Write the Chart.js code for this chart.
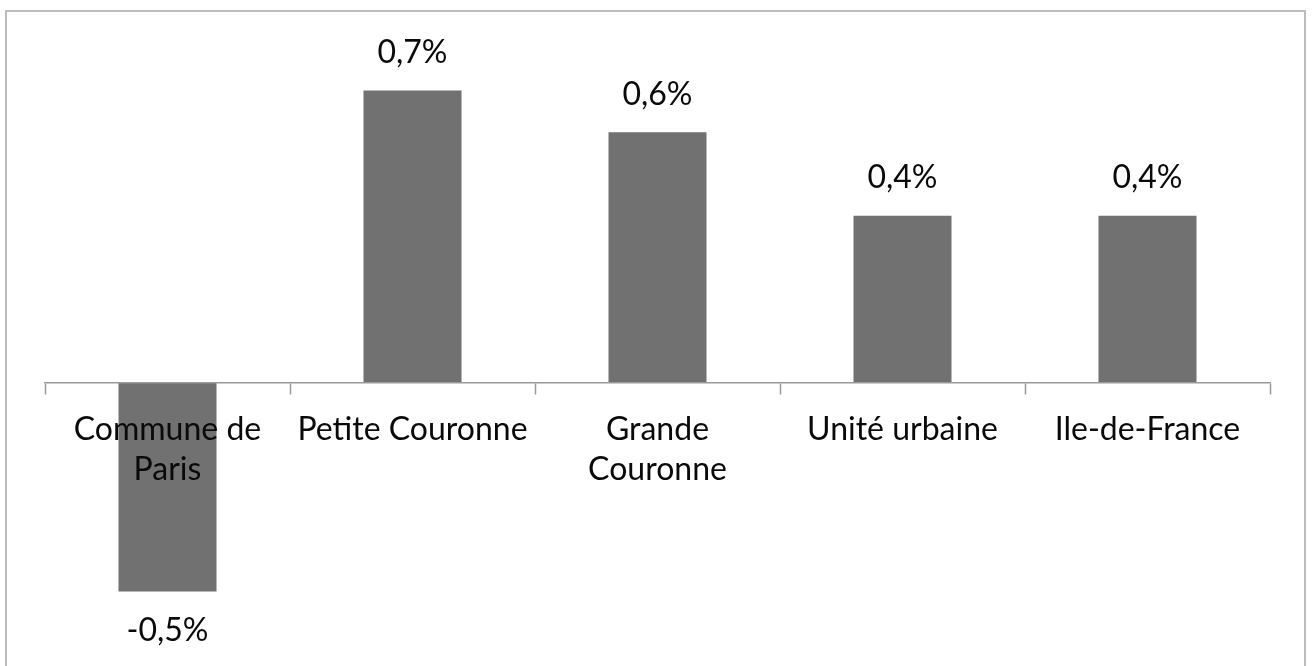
<!DOCTYPE html>
<html lang="fr">
<head>
<meta charset="utf-8">
<title>Évolution annuelle de la population</title>
<script src="https://cdn.jsdelivr.net/npm/chart.js@4.4.1/dist/chart.umd.min.js"></script>
<style>
  html, body { margin: 0; padding: 0; background: #ffffff; }
  #wrap { position: relative; width: 1313px; height: 666px; overflow: hidden; }
  #frame {
    position: absolute; left: 5px; top: 10px; width: 1301px; height: 700px;
    border: 2px solid #bdbdbd; box-sizing: border-box;
  }
  #chart { position: absolute; left: 0; top: 0; }
</style>
</head>
<body>
<div id="wrap">
  <div id="frame"></div>
  <canvas id="chart" width="1313" height="666"></canvas>
</div>
<script>
// Territoires
const categories = [
  ['Commune de', 'Paris'],
  'Petite Couronne',
  ['Grande', 'Couronne'],
  'Unité urbaine',
  'Ile-de-France'
];
// Taux de variation annuel (%)
const values = [-0.5, 0.7, 0.6, 0.4, 0.4];
const valueLabels = ['-0,5%', '0,7%', '0,6%', '0,4%', '0,4%'];

const FONT = 'Lato, "Open Sans", sans-serif';

// Étiquettes de valeur au-dessus (ou au-dessous) de chaque barre
const valueLabelPlugin = {
  id: 'valueLabels',
  afterDatasetsDraw(chart) {
    const ctx = chart.ctx;
    const meta = chart.getDatasetMeta(0);
    ctx.save();
    ctx.font = '32px ' + FONT;
    ctx.fillStyle = '#0a0a0a';
    ctx.textAlign = 'center';
    ctx.textBaseline = 'middle';
    meta.data.forEach((bar, i) => {
      const v = values[i];
      const y = v >= 0 ? bar.y - 38 : bar.y + 39;
      ctx.fillText(valueLabels[i], bar.x, y);
    });
    ctx.restore();
  }
};

new Chart(document.getElementById('chart'), {
  type: 'bar',
  data: {
    labels: categories,
    datasets: [{
      data: values,
      backgroundColor: '#717171',
      borderWidth: 0,
      barPercentage: 0.4,
      categoryPercentage: 1.0
    }]
  },
  options: {
    responsive: false,
    animation: false,
    devicePixelRatio: 1,
    layout: { padding: { left: 45, right: 43, top: 69.6, bottom: 11.9 } },
    plugins: {
      legend: { display: false },
      tooltip: { enabled: false }
    },
    scales: {
      x: {
        position: { y: 0 },
        offset: true,
        grid: {
          display: true,
          offset: true,
          drawOnChartArea: false,
          drawTicks: true,
          tickLength: 11,
          tickColor: '#9a9a9a',
          tickWidth: 1.5,
          z: 1
        },
        // axe et libellés dessinés par-dessus les barres
        border: { display: true, color: '#9a9a9a', width: 1.5, z: 1 },
        ticks: {
          color: '#0a0a0a',
          font: { family: FONT, size: 32, lineHeight: 1.25 },
          padding: 16,
          maxRotation: 0,
          autoSkip: false,
          z: 1
        }
      },
      y: {
        display: false,
        min: -0.65,
        max: 0.75
      }
    }
  },
  plugins: [valueLabelPlugin]
});
</script>
</body>
</html>
